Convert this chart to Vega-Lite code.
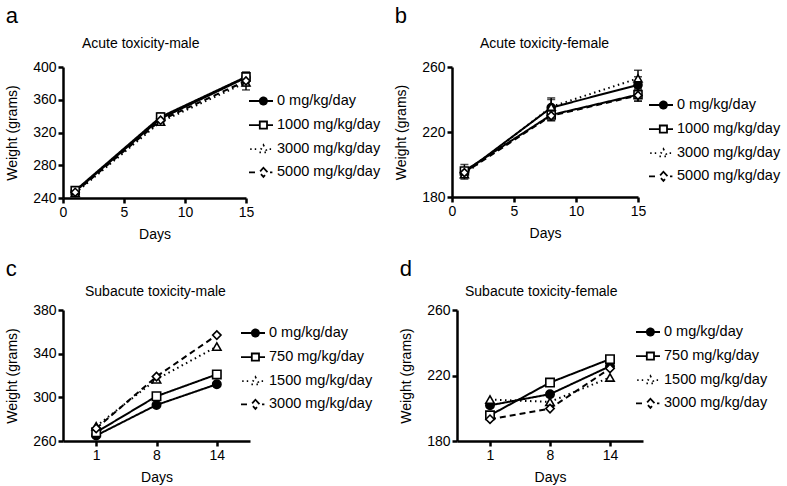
{
  "$schema": "https://vega.github.io/schema/vega-lite/v6.json",
  "background": "white",
  "padding": 5,
  "config": {
    "font": "Liberation Sans",
    "view": {"stroke": null},
    "axis": {"domainColor": "black", "domainWidth": 2.5, "tickColor": "black", "tickWidth": 2.5, "tickSize": 5, "labelColor": "black", "labelFontSize": 14, "titleFontSize": 14, "titleFontWeight": "normal", "titleColor": "black", "grid": false, "labelPadding": 2, "labelFlush": false, "labelOverlap": false, "titlePadding": 8},
    "axisY": {"titlePadding": 13},
    "axisX": {"labelAngle": 0},
    "legend": {"padding": 0, "rowPadding": 3.1, "labelFontSize": 14.5, "labelColor": "black", "symbolSize": 576, "symbolStrokeWidth": 1.8, "symbolStrokeColor": "black", "labelOffset": 3, "title": null},
    "title": {"color": "black", "fontWeight": "normal"}
  },
  "datasets": {
    "d": [
      {"panel": "a", "dose": "0 mg/kg/day", "day": 1, "w": 248, "lo": 244, "hi": 252},
      {"panel": "a", "dose": "0 mg/kg/day", "day": 8, "w": 337, "lo": 332, "hi": 342},
      {"panel": "a", "dose": "0 mg/kg/day", "day": 15, "w": 387, "lo": 381, "hi": 393},
      {"panel": "a", "dose": "1000 mg/kg/day", "day": 1, "w": 249, "lo": 245, "hi": 253},
      {"panel": "a", "dose": "1000 mg/kg/day", "day": 8, "w": 339, "lo": 334, "hi": 344},
      {"panel": "a", "dose": "1000 mg/kg/day", "day": 15, "w": 388, "lo": 383, "hi": 394},
      {"panel": "a", "dose": "3000 mg/kg/day", "day": 1, "w": 246, "lo": 242, "hi": 250},
      {"panel": "a", "dose": "3000 mg/kg/day", "day": 8, "w": 333, "lo": 329, "hi": 337},
      {"panel": "a", "dose": "3000 mg/kg/day", "day": 15, "w": 381, "lo": 372, "hi": 389},
      {"panel": "a", "dose": "5000 mg/kg/day", "day": 1, "w": 247, "lo": 244, "hi": 250},
      {"panel": "a", "dose": "5000 mg/kg/day", "day": 8, "w": 335, "lo": 330, "hi": 340},
      {"panel": "a", "dose": "5000 mg/kg/day", "day": 15, "w": 383, "lo": 377, "hi": 389},
      {"panel": "b", "dose": "0 mg/kg/day", "day": 1, "w": 195, "lo": 192, "hi": 198},
      {"panel": "b", "dose": "0 mg/kg/day", "day": 8, "w": 235, "lo": 229, "hi": 241},
      {"panel": "b", "dose": "0 mg/kg/day", "day": 15, "w": 249, "lo": 244, "hi": 254},
      {"panel": "b", "dose": "1000 mg/kg/day", "day": 1, "w": 196, "lo": 192, "hi": 200},
      {"panel": "b", "dose": "1000 mg/kg/day", "day": 8, "w": 230.5, "lo": 227, "hi": 234},
      {"panel": "b", "dose": "1000 mg/kg/day", "day": 15, "w": 243, "lo": 239, "hi": 247},
      {"panel": "b", "dose": "3000 mg/kg/day", "day": 1, "w": 194, "lo": 191, "hi": 197},
      {"panel": "b", "dose": "3000 mg/kg/day", "day": 8, "w": 235.5, "lo": 231, "hi": 240},
      {"panel": "b", "dose": "3000 mg/kg/day", "day": 15, "w": 253, "lo": 248, "hi": 258},
      {"panel": "b", "dose": "5000 mg/kg/day", "day": 1, "w": 195, "lo": 192, "hi": 198},
      {"panel": "b", "dose": "5000 mg/kg/day", "day": 8, "w": 230, "lo": 227, "hi": 233},
      {"panel": "b", "dose": "5000 mg/kg/day", "day": 15, "w": 242.5, "lo": 239, "hi": 246},
      {"panel": "c", "dose": "0 mg/kg/day", "day": 1, "w": 265},
      {"panel": "c", "dose": "0 mg/kg/day", "day": 8, "w": 293},
      {"panel": "c", "dose": "0 mg/kg/day", "day": 14, "w": 312},
      {"panel": "c", "dose": "750 mg/kg/day", "day": 1, "w": 268},
      {"panel": "c", "dose": "750 mg/kg/day", "day": 8, "w": 301},
      {"panel": "c", "dose": "750 mg/kg/day", "day": 14, "w": 321},
      {"panel": "c", "dose": "1500 mg/kg/day", "day": 1, "w": 273.5},
      {"panel": "c", "dose": "1500 mg/kg/day", "day": 8, "w": 316.5},
      {"panel": "c", "dose": "1500 mg/kg/day", "day": 14, "w": 346.5},
      {"panel": "c", "dose": "3000 mg/kg/day", "day": 1, "w": 271.5},
      {"panel": "c", "dose": "3000 mg/kg/day", "day": 8, "w": 319},
      {"panel": "c", "dose": "3000 mg/kg/day", "day": 14, "w": 357},
      {"panel": "d", "dose": "0 mg/kg/day", "day": 1, "w": 201.8},
      {"panel": "d", "dose": "0 mg/kg/day", "day": 8, "w": 208.6},
      {"panel": "d", "dose": "0 mg/kg/day", "day": 14, "w": 225.7},
      {"panel": "d", "dose": "750 mg/kg/day", "day": 1, "w": 195.7},
      {"panel": "d", "dose": "750 mg/kg/day", "day": 8, "w": 215.7},
      {"panel": "d", "dose": "750 mg/kg/day", "day": 14, "w": 230},
      {"panel": "d", "dose": "1500 mg/kg/day", "day": 1, "w": 205.3},
      {"panel": "d", "dose": "1500 mg/kg/day", "day": 8, "w": 203.9},
      {"panel": "d", "dose": "1500 mg/kg/day", "day": 14, "w": 218.8},
      {"panel": "d", "dose": "3000 mg/kg/day", "day": 1, "w": 193.3},
      {"panel": "d", "dose": "3000 mg/kg/day", "day": 8, "w": 199.8},
      {"panel": "d", "dose": "3000 mg/kg/day", "day": 14, "w": 224.3}
    ]
  },
  "spacing": 17,
  "resolve": {"scale": {"strokeDash": "independent"}, "legend": {"strokeDash": "independent"}},
  "vconcat": [
    {
      "spacing": 13,
      "resolve": {"scale": {"strokeDash": "independent"}, "legend": {"strokeDash": "independent"}},
      "hconcat": [
        {
          "title": {"text": "a", "anchor": "start", "fontSize": 22, "offset": 9},
          "resolve": {"scale": {"strokeDash": "independent"}, "legend": {"strokeDash": "independent"}},
          "vconcat": [
            {
              "width": 183, "height": 131,
              "title": {"text": "Acute toxicity-male", "anchor": "start", "frame": "group", "dx": 19, "fontSize": 14, "offset": 9},
              "data": {"name": "d"},
              "transform": [{"filter": "datum.panel === 'a'"}],
              "encoding": {
                "x": {"field": "day", "type": "quantitative", "scale": {"domain": [0, 15], "nice": false, "zero": false}, "axis": {"values": [0, 5, 10, 15], "title": "Days"}},
                "y": {"field": "w", "type": "quantitative", "scale": {"domain": [240, 400], "nice": false, "zero": false}, "axis": {"values": [240, 280, 320, 360, 400], "title": "Weight (grams)"}}
              },
              "layer": [
                {"mark": {"type": "errorbar", "ticks": {"size": 8}, "thickness": 1.5, "color": "black"},
                 "encoding": {"y": {"field": "lo", "type": "quantitative", "scale": {"domain": [240, 400], "nice": false, "zero": false}, "axis": {"values": [240, 280, 320, 360, 400], "title": "Weight (grams)"}}, "y2": {"field": "hi"}}},
                {"mark": {"type": "line", "color": "black", "strokeWidth": 2},
                 "encoding": {"strokeDash": {"field": "dose", "type": "nominal", "scale": {"domain": ["0 mg/kg/day", "1000 mg/kg/day", "3000 mg/kg/day", "5000 mg/kg/day"], "range": [[1, 0], [1, 0], [1.5, 3.5], [6, 4]]},
                   "legend": {"orient": "none", "legendX": 185, "legendY": 21, "symbolSize": 576,
                     "encode": {"symbols": {"update": {
                       "shape": {"signal": "['M-1,0L1,0M0.5,0A0.3,0.3,0,1,1,-0.1,0A0.3,0.3,0,1,1,0.5,0Z','M-1,0L-0.1,0M0.5,0L1,0M-0.1,-0.3L0.5,-0.3L0.5,0.3L-0.1,0.3Z','M-0.9,0L-0.78,0M-0.52,0L-0.4,0M0.72,0L0.84,0M0.2,-0.34L0.55,0.26L-0.15,0.26Z','M-1,0L-0.45,0M0.75,0L0.95,0M0.2,-0.38L0.55,0L0.2,0.38L-0.15,0Z'][indexof(['0 mg/kg/day','1000 mg/kg/day','3000 mg/kg/day','5000 mg/kg/day'], datum.value)]"},
                       "size": {"value": 576},
                       "fill": {"signal": "datum.value === '0 mg/kg/day' ? 'black' : 'white'"},
                       "stroke": {"value": "black"}, "strokeWidth": {"value": 1.8}, "strokeDash": {"value": [1, 0]}, "opacity": {"value": 1}}}}}}}},
                {"mark": {"type": "point", "stroke": "black", "strokeWidth": 1.6, "size": 64, "opacity": 1},
                 "encoding": {
                   "shape": {"condition": [{"test": "datum.dose === '1000 mg/kg/day'", "value": "square"}, {"test": "datum.dose === '3000 mg/kg/day'", "value": "triangle-up"}, {"test": "datum.dose === '5000 mg/kg/day'", "value": "diamond"}], "value": "circle"},
                   "fill": {"condition": {"test": "datum.dose === '0 mg/kg/day'", "value": "black"}, "value": "white"}}}
              ]
            }
          ]
        },
        {
          "title": {"text": "b", "anchor": "start", "fontSize": 22, "offset": 9},
          "resolve": {"scale": {"strokeDash": "independent"}, "legend": {"strokeDash": "independent"}},
          "vconcat": [
            {
              "width": 186, "height": 130,
              "title": {"text": "Acute toxicity-female", "anchor": "start", "frame": "group", "dx": 28, "fontSize": 14, "offset": 9},
              "data": {"name": "d"},
              "transform": [{"filter": "datum.panel === 'b'"}],
              "encoding": {
                "x": {"field": "day", "type": "quantitative", "scale": {"domain": [0, 15], "nice": false, "zero": false}, "axis": {"values": [0, 5, 10, 15], "title": "Days"}},
                "y": {"field": "w", "type": "quantitative", "scale": {"domain": [180, 260], "nice": false, "zero": false}, "axis": {"values": [180, 220, 260], "title": "Weight (grams)"}}
              },
              "layer": [
                {"mark": {"type": "errorbar", "ticks": {"size": 8}, "thickness": 1.5, "color": "black"},
                 "encoding": {"y": {"field": "lo", "type": "quantitative", "scale": {"domain": [180, 260], "nice": false, "zero": false}, "axis": {"values": [180, 220, 260], "title": "Weight (grams)"}}, "y2": {"field": "hi"}}},
                {"mark": {"type": "line", "color": "black", "strokeWidth": 2},
                 "encoding": {"strokeDash": {"field": "dose", "type": "nominal", "scale": {"domain": ["0 mg/kg/day", "1000 mg/kg/day", "3000 mg/kg/day", "5000 mg/kg/day"], "range": [[1, 0], [1, 0], [1.5, 3.5], [6, 4]]},
                   "legend": {"orient": "none", "legendX": 196, "legendY": 25, "symbolSize": 576,
                     "encode": {"symbols": {"update": {
                       "shape": {"signal": "['M-1,0L1,0M0.5,0A0.3,0.3,0,1,1,-0.1,0A0.3,0.3,0,1,1,0.5,0Z','M-1,0L-0.1,0M0.5,0L1,0M-0.1,-0.3L0.5,-0.3L0.5,0.3L-0.1,0.3Z','M-0.9,0L-0.78,0M-0.52,0L-0.4,0M0.72,0L0.84,0M0.2,-0.34L0.55,0.26L-0.15,0.26Z','M-1,0L-0.45,0M0.75,0L0.95,0M0.2,-0.38L0.55,0L0.2,0.38L-0.15,0Z'][indexof(['0 mg/kg/day','1000 mg/kg/day','3000 mg/kg/day','5000 mg/kg/day'], datum.value)]"},
                       "size": {"value": 576},
                       "fill": {"signal": "datum.value === '0 mg/kg/day' ? 'black' : 'white'"},
                       "stroke": {"value": "black"}, "strokeWidth": {"value": 1.8}, "strokeDash": {"value": [1, 0]}, "opacity": {"value": 1}}}}}}}},
                {"mark": {"type": "point", "stroke": "black", "strokeWidth": 1.6, "size": 64, "opacity": 1},
                 "encoding": {
                   "shape": {"condition": [{"test": "datum.dose === '1000 mg/kg/day'", "value": "square"}, {"test": "datum.dose === '3000 mg/kg/day'", "value": "triangle-up"}, {"test": "datum.dose === '5000 mg/kg/day'", "value": "diamond"}], "value": "circle"},
                   "fill": {"condition": {"test": "datum.dose === '0 mg/kg/day'", "value": "black"}, "value": "white"}}}
              ]
            }
          ]
        }
      ]
    },
    {
      "spacing": 26,
      "resolve": {"scale": {"strokeDash": "independent"}, "legend": {"strokeDash": "independent"}},
      "hconcat": [
        {
          "title": {"text": "c", "anchor": "start", "fontSize": 22, "offset": 4},
          "resolve": {"scale": {"strokeDash": "independent"}, "legend": {"strokeDash": "independent"}},
          "vconcat": [
            {
              "width": 187, "height": 131,
              "title": {"text": "Subacute toxicity-male", "anchor": "start", "frame": "group", "dx": 22, "fontSize": 14, "offset": 4},
              "data": {"name": "d"},
              "transform": [{"filter": "datum.panel === 'c'"}],
              "encoding": {
                "x": {"field": "day", "type": "ordinal", "scale": {"type": "point", "domain": [1, 8, 14], "padding": 0.55}, "axis": {"title": "Days"}},
                "y": {"field": "w", "type": "quantitative", "scale": {"domain": [260, 380], "nice": false, "zero": false}, "axis": {"values": [260, 300, 340, 380], "title": "Weight (grams)"}}
              },
              "layer": [
                {"mark": {"type": "line", "color": "black", "strokeWidth": 2},
                 "encoding": {"strokeDash": {"field": "dose", "type": "nominal", "scale": {"domain": ["0 mg/kg/day", "750 mg/kg/day", "1500 mg/kg/day", "3000 mg/kg/day"], "range": [[1, 0], [1, 0], [1.5, 3.5], [6, 4]]},
                   "legend": {"orient": "none", "legendX": 177, "legendY": 10, "symbolSize": 576,
                     "encode": {"symbols": {"update": {
                       "shape": {"signal": "['M-1,0L1,0M0.5,0A0.3,0.3,0,1,1,-0.1,0A0.3,0.3,0,1,1,0.5,0Z','M-1,0L-0.1,0M0.5,0L1,0M-0.1,-0.3L0.5,-0.3L0.5,0.3L-0.1,0.3Z','M-0.9,0L-0.78,0M-0.52,0L-0.4,0M0.72,0L0.84,0M0.2,-0.34L0.55,0.26L-0.15,0.26Z','M-1,0L-0.45,0M0.75,0L0.95,0M0.2,-0.38L0.55,0L0.2,0.38L-0.15,0Z'][indexof(['0 mg/kg/day','750 mg/kg/day','1500 mg/kg/day','3000 mg/kg/day'], datum.value)]"},
                       "size": {"value": 576},
                       "fill": {"signal": "datum.value === '0 mg/kg/day' ? 'black' : 'white'"},
                       "stroke": {"value": "black"}, "strokeWidth": {"value": 1.8}, "strokeDash": {"value": [1, 0]}, "opacity": {"value": 1}}}}}}}},
                {"mark": {"type": "point", "stroke": "black", "strokeWidth": 1.6, "size": 70, "opacity": 1},
                 "encoding": {
                   "shape": {"condition": [{"test": "datum.dose === '750 mg/kg/day'", "value": "square"}, {"test": "datum.dose === '1500 mg/kg/day'", "value": "triangle-up"}, {"test": "datum.dose === '3000 mg/kg/day'", "value": "diamond"}], "value": "circle"},
                   "fill": {"condition": {"test": "datum.dose === '0 mg/kg/day'", "value": "black"}, "value": "white"}}}
              ]
            }
          ]
        },
        {
          "title": {"text": "d", "anchor": "start", "fontSize": 22, "offset": 4},
          "resolve": {"scale": {"strokeDash": "independent"}, "legend": {"strokeDash": "independent"}},
          "vconcat": [
            {
              "width": 186, "height": 131,
              "title": {"text": "Subacute toxicity-female", "anchor": "start", "frame": "group", "dx": 8, "fontSize": 14, "offset": 4},
              "data": {"name": "d"},
              "transform": [{"filter": "datum.panel === 'd'"}],
              "encoding": {
                "x": {"field": "day", "type": "ordinal", "scale": {"type": "point", "domain": [1, 8, 14], "padding": 0.55}, "axis": {"title": "Days"}},
                "y": {"field": "w", "type": "quantitative", "scale": {"domain": [180, 260], "nice": false, "zero": false}, "axis": {"values": [180, 220, 260], "title": "Weight (grams)"}}
              },
              "layer": [
                {"mark": {"type": "line", "color": "black", "strokeWidth": 2},
                 "encoding": {"strokeDash": {"field": "dose", "type": "nominal", "scale": {"domain": ["0 mg/kg/day", "750 mg/kg/day", "1500 mg/kg/day", "3000 mg/kg/day"], "range": [[1, 0], [1, 0], [1.5, 3.5], [6, 4]]},
                   "legend": {"orient": "none", "legendX": 178, "legendY": 9, "symbolSize": 576,
                     "encode": {"symbols": {"update": {
                       "shape": {"signal": "['M-1,0L1,0M0.5,0A0.3,0.3,0,1,1,-0.1,0A0.3,0.3,0,1,1,0.5,0Z','M-1,0L-0.1,0M0.5,0L1,0M-0.1,-0.3L0.5,-0.3L0.5,0.3L-0.1,0.3Z','M-0.9,0L-0.78,0M-0.52,0L-0.4,0M0.72,0L0.84,0M0.2,-0.34L0.55,0.26L-0.15,0.26Z','M-1,0L-0.45,0M0.75,0L0.95,0M0.2,-0.38L0.55,0L0.2,0.38L-0.15,0Z'][indexof(['0 mg/kg/day','750 mg/kg/day','1500 mg/kg/day','3000 mg/kg/day'], datum.value)]"},
                       "size": {"value": 576},
                       "fill": {"signal": "datum.value === '0 mg/kg/day' ? 'black' : 'white'"},
                       "stroke": {"value": "black"}, "strokeWidth": {"value": 1.8}, "strokeDash": {"value": [1, 0]}, "opacity": {"value": 1}}}}}}}},
                {"mark": {"type": "point", "stroke": "black", "strokeWidth": 1.6, "size": 70, "opacity": 1},
                 "encoding": {
                   "shape": {"condition": [{"test": "datum.dose === '750 mg/kg/day'", "value": "square"}, {"test": "datum.dose === '1500 mg/kg/day'", "value": "triangle-up"}, {"test": "datum.dose === '3000 mg/kg/day'", "value": "diamond"}], "value": "circle"},
                   "fill": {"condition": {"test": "datum.dose === '0 mg/kg/day'", "value": "black"}, "value": "white"}}}
              ]
            }
          ]
        }
      ]
    }
  ]
}
